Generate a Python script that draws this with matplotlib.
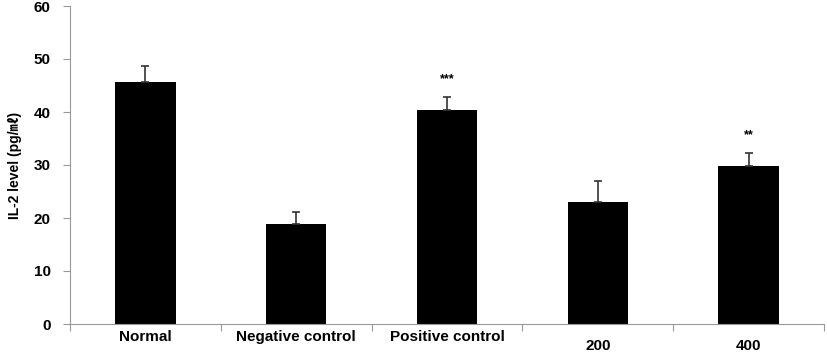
import matplotlib
matplotlib.use("Agg")
import matplotlib.pyplot as plt
import numpy as np

groups = ["Normal", "Negative control", "Positive control", "200", "400"]
il2_mean = [45.7, 18.9, 40.4, 23.0, 29.8]
il2_err = [2.9, 2.2, 2.4, 4.0, 2.5]
stars = ["", "", "***", "", "**"]

plt.rcParams["font.family"] = ["Liberation Sans", "Noto Sans CJK KR", "DejaVu Sans"]

fig = plt.figure(figsize=(8.27, 3.54), dpi=100)
ax = fig.add_axes([70 / 827, 30 / 354, 754 / 827, 318 / 354])

x = np.arange(len(groups))
ax.bar(x, il2_mean, width=0.4, color="black", zorder=2)
ax.errorbar(x, il2_mean, yerr=[np.zeros(len(x)), il2_err], fmt="none",
            ecolor="#333333", elinewidth=1.2, capsize=3, capthick=1.2, zorder=3)

for xi, m, e, s in zip(x, il2_mean, il2_err, stars):
    if s:
        ax.text(xi, m + e + 2.2, s, ha="center", va="bottom", fontsize=9,
                fontweight="bold")

ax.set_xlim(-0.5, len(groups) - 0.5)
ax.set_ylim(0, 60)
ax.set_yticks(range(0, 61, 10))
ax.set_yticklabels([str(v) for v in range(0, 61, 10)], fontsize=11, fontweight="bold")
ax.set_xticks(np.arange(len(groups) + 1) - 0.5)
ax.set_xticklabels([])
ax.tick_params(axis="x", length=5, color="#999999")
ax.tick_params(axis="y", length=5, color="#999999", pad=9)

for xi, name in zip(x, groups):
    off = -15.5 if name in ("200", "400") else -9.5
    ax.annotate(name, xy=(xi, 0), xycoords="data", xytext=(0, off),
                textcoords="offset points", ha="center", va="center",
                fontsize=11, fontweight="bold")

for sp in ["top", "right"]:
    ax.spines[sp].set_visible(False)
ax.spines["left"].set_color("#999999")
ax.spines["bottom"].set_color("#999999")

ax.set_ylabel("IL-2 level (pg/\u3396)", fontsize=10, fontweight="bold", labelpad=8)

fig.savefig("out.png", dpi=100)
